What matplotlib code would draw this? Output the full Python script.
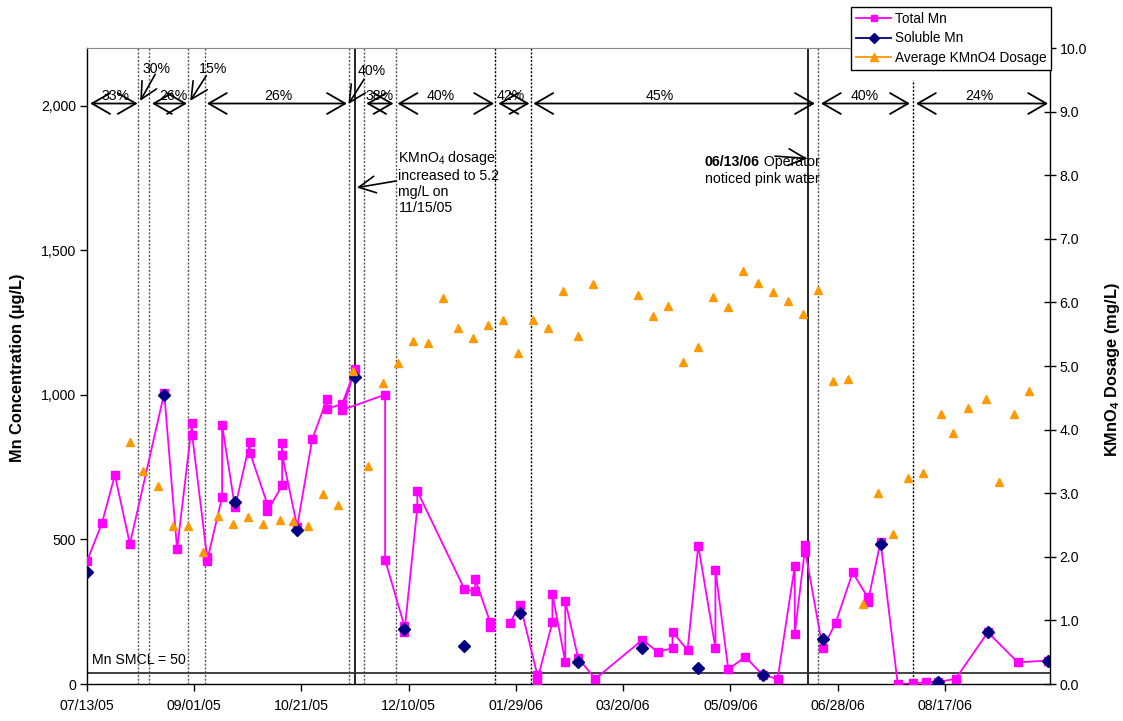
import numpy as np
import matplotlib
matplotlib.use('Agg')
import matplotlib.pyplot as plt
import pandas as pd
from matplotlib.lines import Line2D

plt.rcParams['font.family'] = ['Liberation Sans', 'DejaVu Sans']
plt.rcParams['mathtext.fontset'] = 'custom'
plt.rcParams['mathtext.rm'] = 'Liberation Sans'
plt.rcParams['mathtext.it'] = 'Liberation Sans:italic'
plt.rcParams['mathtext.bf'] = 'Liberation Sans:bold'

# ---------------- data (x = days since 07/13/05) ----------------
START = pd.Timestamp('2005-07-13')
tick_days = [0, 50, 100, 150, 200, 250, 300, 350, 400]
tick_labels = [(START + pd.Timedelta(days=d)).strftime('%m/%d/%y') for d in tick_days]

total_days = [0, 7, 13, 20, 36, 42, 49, 49, 56, 56, 63, 63, 69, 76, 76, 84, 84,
              91, 91, 91, 98, 105, 112, 112, 119, 125, 119, 139, 139, 148, 148,
              154, 154, 176, 181, 181, 188, 188, np.nan, 197, 202, 210, 210, 217,
              217, 223, 223, 229, 237, 259, 266, 273, 273, 280, 285, 293, 293,
              299, 307, 315, 322, 330, 330, 335, 335, 343, 349, 357, 364, 364,
              370, 378, 385, 391, 397, 405, 420, 434, 448]
total_mn = [425, 557, 723, 484, 1006, 467, 904, 863, 438, 426, 647, 895, 611,
            838, 800, 624, 597, 687, 835, 793, 544, 847, 987, 952, 969, 1088,
            948, 1001, 429, 200, 180, 609, 667, 328, 320, 363, 213, 198, np.nan,
            210, 274, 30, 15, 214, 311, 76, 288, 89, 18, 153, 111, 124, 181,
            117, 479, 124, 394, 51, 94, 31, 18, 409, 174, 482, 455, 124, 210,
            386, 300, 282, 492, 0, 2, 6, 7, 18, 179, 75, 81]

soluble_days = [0, 36, 69, 98, 125, 148, 176, 202, 229, 259, 285, 315, 343,
                370, 397, 420, 448]
soluble_mn = [387, 1000, 631, 531, 1062, 190, 132, 245, 76, 126, 57, 31, 157,
              484, 7, 179, 81]

dose_days = [20, 26, 33, 40, 47, 54, 61, 68, 75, 82, 90, 96, 103, 110, 117, 124,
             131, 138, 145, 152, 159, 166, 173, 180, 187, 194, 201, 208, 215,
             222, 229, 236, 257, 264, 271, 278, 285, 292, 299, 306, 313, 320,
             327, 334, 341, 348, 355, 362, 369, 376, 383, 390, 398, 404, 411,
             419, 425, 432, 439]
dose = [3.80, 3.35, 3.12, 2.48, 2.49, 2.07, 2.64, 2.52, 2.62, 2.52, 2.58, 2.56,
        2.49, 2.98, 2.81, 4.92, 3.42, 4.73, 5.04, 5.40, 5.36, 6.07, 5.59, 5.44,
        5.64, 5.72, 5.21, 5.73, 5.60, 6.18, 5.47, 6.29, 6.11, 5.78, 5.94, 5.06,
        5.30, 6.09, 5.93, 6.49, 6.30, 6.17, 6.02, 5.82, 6.19, 4.76, 4.80, 1.26,
        3.00, 2.36, 3.24, 3.32, 4.25, 3.95, 4.34, 4.48, 3.18, 4.25, 4.60]

# period boundaries and removal percentages
dotted_days = [24, 29, 47, 55, 122, 129, 144, 190, 207, 341]
event_days = [125, 336]
period_spans = [(1.5, 23.6), (30.3, 46.6), (55.9, 121.2), (130.2, 142.9),
                (144.8, 189.8), (191.8, 206.3), (208.1, 339.4), (342.2, 383.7),
                (386.5, 448.1)]
period_labels = ['33%', '26%', '26%', '38%', '40%', '42%', '45%', '40%', '24%']
period_label_x = [13.2, 40.4, 89.0, 136.4, 165.0, 197.7, 266.9, 362.4, 416.0]

FS = 9.8
TFS = 10.2
LFS = 11.8
MAG = '#FF00FF'
NAVY = '#000080'
ORANGE = '#FF9900'

fig = plt.figure(figsize=(11.23, 7.21), dpi=100)
W, H = 1123, 721
L, R, T, B = 87, 1050, 48, 684
ax = fig.add_axes([L / W, 1 - B / H, (R - L) / W, (B - T) / H])

ax.set_xlim(0, 449)
ax.set_ylim(0, 2200)

# vertical period lines
for i, d in enumerate(dotted_days):
    col = 'black' if d in (190, 207) else '#555555'
    ax.axvline(d, color=col, ls=(0, (1.5, 1.2)), lw=1.0, zorder=1)
ax.plot([385, 385], [0, 2089], color='black', ls=(0, (1.5, 1.2)), lw=1.0, zorder=1)
for d in event_days:
    ax.axvline(d, color='black', lw=1.2, zorder=1)

# SMCL line
ax.axhline(37, color='#333333', lw=1.3, zorder=1)
ax.text(2.5, 83, 'Mn SMCL = 50', fontsize=TFS, va='center', ha='left')

# series
ax.plot(total_days, total_mn, color=MAG, lw=1.3, marker='s', ms=5.2,
        mec=MAG, mfc=MAG, zorder=3)
ax.plot(soluble_days, soluble_mn, ls='none', marker='D', ms=6.0,
        color=NAVY, zorder=4)

# period arrows
ARW = dict(arrowstyle='<->,head_length=1.3,head_width=0.75', lw=1.3,
           color='black', shrinkA=0, shrinkB=0, mutation_scale=10)
for (x1, x2), lab, lx in zip(period_spans, period_labels, period_label_x):
    ax.annotate('', xy=(x2, 2008), xytext=(x1, 2008), arrowprops=ARW, zorder=5)
    ax.text(lx, 2035, lab, fontsize=TFS, ha='center', va='center', zorder=6)

ARW1 = dict(arrowstyle='->,head_length=1.2,head_width=0.6', lw=1.2,
            color='black', shrinkA=0, shrinkB=0, mutation_scale=10)
for lab, (tx, ty), (ax0, ay0), (hx, hy) in [
        ('30%', (32.5, 2127), (31.8, 2109), (24.8, 2017)),
        ('15%', (59.0, 2127), (55.6, 2104), (48.1, 2017)),
        ('40%', (132.8, 2119), (129.2, 2092), (121.9, 2006))]:
    ax.annotate('', xy=(hx, hy), xytext=(ax0, ay0), arrowprops=ARW1, zorder=5)
    ax.text(tx, ty, lab, fontsize=TFS, ha='center', va='center', zorder=6)

# event annotations
ax.text(145.2, 1852, 'KMnO$_4$ dosage\nincreased to 5.2\nmg/L on\n11/15/05',
        fontsize=TFS, ha='left', va='top', linespacing=1.2)
ax.annotate('', xy=(125.8, 1717), xytext=(144.1, 1740), arrowprops=ARW1)

t1 = ax.text(288.1, 1806, '06/13/06', fontsize=TFS, fontweight='bold',
             ha='left', va='center')
ax.annotate(' Operator', xy=(1, 0.5), xycoords=t1, fontsize=TFS,
            ha='left', va='center')
ax.text(288.1, 1746, 'noticed pink water', fontsize=TFS, ha='left', va='center')
ax.annotate('', xy=(335.7, 1818), xytext=(320.8, 1826), arrowprops=ARW1)

# axes formatting
ax.set_xticks(tick_days)
ax.set_xticklabels(tick_labels, fontsize=TFS)
ax.set_yticks([0, 500, 1000, 1500, 2000])
ax.set_yticklabels([f'{v:,}' for v in [0, 500, 1000, 1500, 2000]], fontsize=TFS)
ax.tick_params(axis='both', direction='out', length=5, width=1, pad=3)
ax.tick_params(axis='x', pad=6)
ax.spines['top'].set_color('#888888')
ax.spines['right'].set_visible(False)
for s in ('left', 'bottom'):
    ax.spines[s].set_linewidth(1.0)

ax2 = ax.twinx()
ax2.set_ylim(0, 10)
ax2.set_xlim(0, 449)
ax2.plot(dose_days, dose, ls='none', marker='^', ms=6.3, color=ORANGE, zorder=3)
ax2.set_yticks(np.arange(0, 11, 1))
ax2.set_yticklabels([f'{v:.1f}' for v in np.arange(0, 11, 1)], fontsize=TFS)
ax2.tick_params(axis='y', direction='inout', length=8, width=1, pad=3)
ax2.spines['top'].set_visible(False)
ax2.spines['left'].set_visible(False)
ax2.spines['bottom'].set_visible(False)
ax2.spines['right'].set_linewidth(1.0)

fig.text(18 / W, 1 - 368 / H, 'Mn Concentration (µg/L)', rotation=90,
         fontsize=LFS, fontweight='bold', ha='center', va='center')
fig.text(1112 / W, 1 - 370 / H, r'KMnO$_\mathbf{4}$ Dosage (mg/L)', rotation=90,
         fontsize=LFS, fontweight='bold', ha='center', va='center')

handles = [Line2D([], [], color=MAG, marker='s', ms=5, lw=1.3, label='Total Mn'),
           Line2D([], [], color=NAVY, marker='D', ms=5.5, lw=1.3, label='Soluble Mn'),
           Line2D([], [], color=ORANGE, marker='^', ms=6, lw=1.3,
                  label='Average KMnO4 Dosage')]
leg = fig.legend(handles=handles, loc='upper right',
                 bbox_to_anchor=(1051 / W, 1 - 7 / H), frameon=True,
                 fancybox=False, edgecolor='black', framealpha=1,
                 borderpad=0.35, handlelength=2.6, handletextpad=0.25,
                 labelspacing=0.42, borderaxespad=0, fontsize=FS)
leg.get_frame().set_linewidth(1.0)

fig.savefig('out.png', dpi=100)
